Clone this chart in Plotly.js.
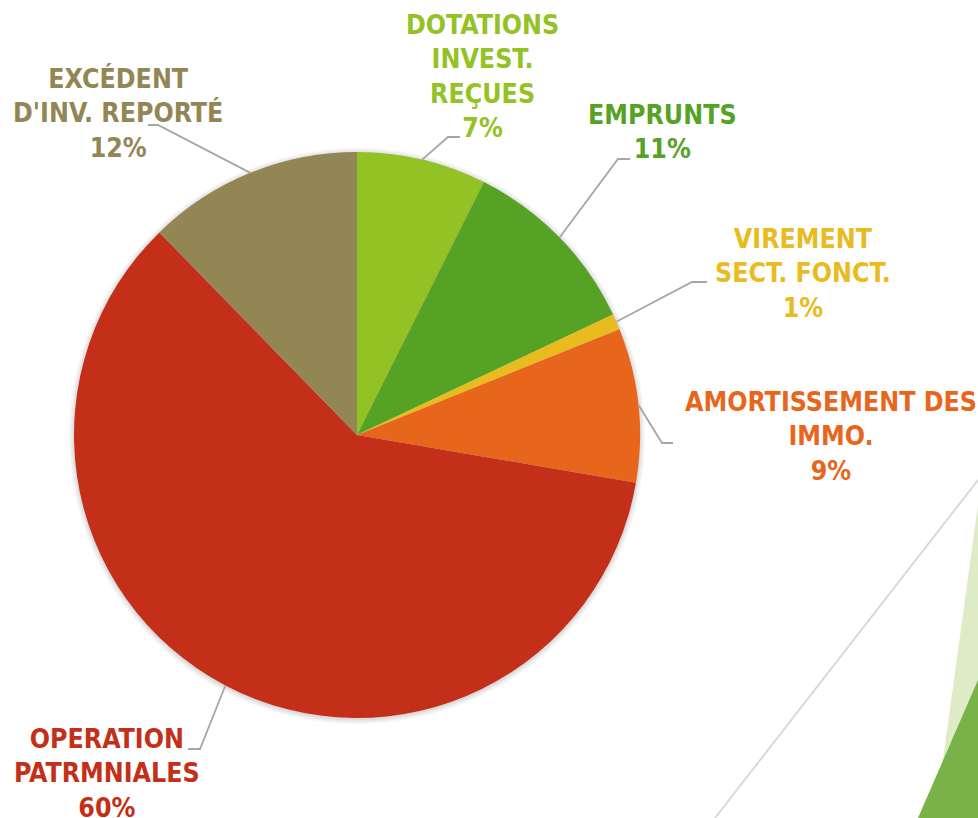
<!DOCTYPE html>
<html>
<head>
<meta charset="utf-8">
<script src="https://cdn.plot.ly/plotly-3.0.1.min.js"></script>
<style>html,body{margin:0;padding:0;background:#fff;}#chart{width:978px;height:818px;}</style>
</head>
<body>
<div id="chart"></div>
<script>
// ---- data ----
const categories = [
  "DOTATIONS<br>INVEST.<br>REÇUES",
  "EMPRUNTS",
  "VIREMENT<br>SECT. FONCT.",
  "AMORTISSEMENT DES<br>IMMO.",
  "OPERATION<br>PATRMNIALES",
  "EXCÉDENT<br>D'INV. REPORTÉ"
];
const values = [7.4, 10.6, 0.9, 8.8, 60.0, 12.3];
const colors = ["#93C225", "#55A224", "#E8BB1F", "#E8661B", "#C42F1A", "#928654"];

// ---- layout helpers (pixel -> paper) ----
const W = 978, H = 818;
const px = x => x / W;
const py = y => 1 - y / H;
const cx = 357, cy = 435, R = 283;

// label block centres and elbow points (pixels)
const labelPos = [
  {x: 482, y: 76,  hx: 460, hy: 137, ex: 448, ey: 137},
  {x: 662, y: 131, hx: 630, hy: 159, ex: 618, ey: 159},
  {x: 803, y: 273, hx: 707, hy: 282, ex: 692, ey: 282},
  {x: 831, y: 436, hx: 673, hy: 443, ex: 662, ey: 443},
  {x: 107, y: 773, hx: 188, hy: 749, ex: 200, ey: 749},
  {x: 118, y: 113, hx: 148, hy: 125, ex: 158, ey: 125}
];

const total = values.reduce((a, b) => a + b, 0);
const annotations = [];
const shapes = [];

// background decoration
shapes.push({type: 'line', xref: 'paper', yref: 'paper', layer: 'below',
  x0: px(978), y0: py(480), x1: px(715), y1: py(818),
  line: {color: '#D9D9D9', width: 2}});
shapes.push({type: 'path', xref: 'paper', yref: 'paper', layer: 'below',
  path: `M ${px(978)} ${py(505)} L ${px(935)} ${py(818)} L ${px(978)} ${py(818)} Z`,
  fillcolor: '#DDEBC6', line: {width: 0}});
shapes.push({type: 'path', xref: 'paper', yref: 'paper', layer: 'below',
  path: `M ${px(978)} ${py(680)} L ${px(918)} ${py(818)} L ${px(978)} ${py(818)} Z`,
  fillcolor: '#7AB24A', line: {width: 0}});
// soft shadow round the pie
[5, 3.5, 2, 1].forEach(d => {
  shapes.push({type: 'circle', xref: 'paper', yref: 'paper', layer: 'below',
    x0: px(cx - R - d), x1: px(cx + R + d), y0: py(cy + R + d + 1), y1: py(cy - R - d + 1),
    fillcolor: 'rgba(0,0,0,0.035)', line: {width: 0}});
});

let cum = 0;
values.forEach((v, i) => {
  const mid = (cum + v / 2) / total;
  cum += v;
  const ang = mid * 2 * Math.PI;
  const ix = cx + R * Math.sin(ang);
  const iy = cy - R * Math.cos(ang);
  const p = labelPos[i];
  annotations.push({
    xref: 'paper', yref: 'paper', x: px(p.x), y: py(p.y),
    xanchor: 'center', yanchor: 'middle', showarrow: false, align: 'center',
    text: '<b>' + categories[i] + '<br>' + Math.round(v / total * 100) + '%</b>',
    font: {family: '"DejaVu Sans Condensed", "DejaVu Sans", sans-serif', size: 26.5, color: colors[i]}
  });
  shapes.push({
    type: 'path', xref: 'paper', yref: 'paper',
    path: `M ${px(p.hx)} ${py(p.hy)} L ${px(p.ex)} ${py(p.ey)} L ${px(ix)} ${py(iy)}`,
    line: {color: '#A6A6A6', width: 1.8}
  });
});

const trace = {
  type: 'pie',
  labels: categories,
  values: values,
  sort: false,
  direction: 'clockwise',
  rotation: 0,
  textinfo: 'none',
  hoverinfo: 'skip',
  marker: {colors: colors, line: {width: 0}},
  domain: {x: [px(cx - R), px(cx + R)], y: [py(cy + R), py(cy - R)]},
  automargin: false,
  showlegend: false
};

const layout = {
  width: W, height: H,
  margin: {l: 0, r: 0, t: 0, b: 0},
  paper_bgcolor: '#ffffff',
  plot_bgcolor: 'rgba(0,0,0,0)',
  showlegend: false,
  annotations: annotations,
  shapes: shapes
};

Plotly.newPlot('chart', [trace], layout, {displayModeBar: false, staticPlot: true});
</script>
</body>
</html>
